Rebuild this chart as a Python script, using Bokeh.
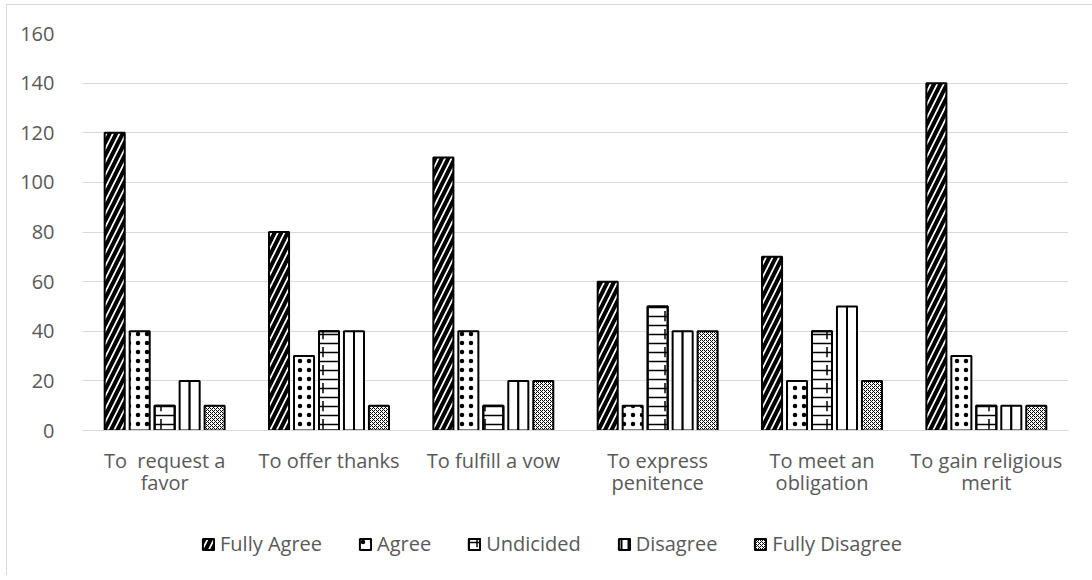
from bokeh.plotting import figure
from bokeh.layouts import column
from bokeh.models import (ColumnDataSource, FactorRange, FixedTicker, Legend,
                          LegendItem)
from bokeh.transform import dodge
from bokeh.embed import file_html
from bokeh.resources import INLINE

# Survey answers per motive
categories = ["To\u00a0 request a\nfavor", "To offer thanks", "To fulfill a vow",
              "To express\npenitence", "To meet an\nobligation",
              "To gain religious\nmerit"]
series_names = ["Fully Agree", "Agree", "Undicided", "Disagree", "Fully Disagree"]
fully_agree = [120, 80, 110, 60, 70, 140]
agree = [40, 30, 40, 10, 20, 30]
undecided = [10, 40, 10, 50, 40, 10]
disagree = [20, 40, 20, 40, 50, 10]
fully_disagree = [10, 10, 20, 40, 20, 10]
y_ticks = [0, 20, 40, 60, 80, 100, 120, 140, 160]

source = ColumnDataSource(dict(
    cat=categories, fa=fully_agree, ag=agree, un=undecided,
    di=disagree, fd=fully_disagree,
))

FONT = "Open Sans"
GREY_TEXT = "#595959"
GRID = "#d9d9d9"

base = dict(fill_color="white", line_color="black", line_width=2,
            hatch_color="black")
styles = {
    "fa": dict(hatch_pattern="right_diagonal_line", hatch_scale=13, hatch_weight=4),
    "ag": dict(hatch_pattern="dot", hatch_scale=9, hatch_weight=1),
    "un": dict(hatch_pattern="horizontal_line", hatch_scale=9, hatch_weight=1.5),
    "un_joints": dict(hatch_pattern="vertical_dash", hatch_scale=18,
                      hatch_weight=1.5, fill_alpha=0),
    "di": dict(),
    "di_key": dict(hatch_pattern="vertical_line", hatch_scale=7, hatch_weight=2),
    "fd": dict(hatch_pattern="diagonal_cross", hatch_scale=4, hatch_weight=1),
}

p = figure(
    x_range=FactorRange(factors=categories, range_padding=0),
    y_range=(0, 160),
    width=1086, height=510,
    output_backend="svg", toolbar_location=None,
    min_border_left=75, min_border_right=25,
    min_border_top=28, min_border_bottom=85,
    outline_line_color=None,
    background_fill_color="white", border_fill_color="white",
)

bw = 0.122
step = 0.152


def bars(offset, col, key, width=bw):
    kw = dict(base)
    kw.update(styles[key])
    return p.vbar(x=dodge("cat", offset, range=p.x_range), top=col,
                  width=width, source=source, **kw)


bars(-2 * step, "fa", "fa")
bars(-step, "ag", "ag")
# Undecided: horizontal courses plus staggered joints, like brickwork
bars(0, "un", "un")
bars(0, "un", "un_joints")
# Disagree: two halves side by side, giving the centre divider
bars(step - bw / 4, "di", "di", bw / 2)
bars(step + bw / 4, "di", "di", bw / 2)
bars(2 * step, "fd", "fd")

# Axes
p.xaxis.axis_line_color = GRID
p.xaxis.major_tick_line_color = None
p.xaxis.minor_tick_line_color = None
p.xaxis.major_label_text_font = FONT
p.xaxis.major_label_text_font_size = "20px"
p.xaxis.major_label_text_color = GREY_TEXT
p.xaxis.major_label_text_line_height = 0.85
p.xaxis.major_label_standoff = 10
p.xaxis.major_label_orientation = "horizontal"

p.yaxis.ticker = FixedTicker(ticks=y_ticks)
p.yaxis.axis_line_color = None
p.yaxis.major_tick_line_color = None
p.yaxis.minor_tick_line_color = None
p.yaxis.major_label_text_font = FONT
p.yaxis.major_label_text_font_size = "20px"
p.yaxis.major_label_text_color = GREY_TEXT
p.yaxis.major_label_standoff = 22

p.xgrid.grid_line_color = None
p.ygrid.grid_line_color = GRID
p.ygrid.grid_line_width = 1

# Legend strip under the chart; its key swatches are hidden glyphs
lg = figure(width=1086, height=60, output_backend="svg", toolbar_location=None,
            x_range=(0, 1), y_range=(0, 1), min_border=0,
            x_axis_location=None, y_axis_location=None,
            outline_line_color=None, border_fill_color="white")
lg.grid.visible = False
swatch = ColumnDataSource(dict(x=[0], top=[0]))


def key(k):
    kw = dict(base)
    kw.update(styles[k])
    r = lg.vbar(x="x", top="top", width=0.1, source=swatch, **kw)
    r.visible = False
    return r


items = [
    LegendItem(label=series_names[0], renderers=[key("fa")]),
    LegendItem(label=series_names[1], renderers=[key("ag")]),
    LegendItem(label=series_names[2], renderers=[key("un"), key("un_joints")]),
    LegendItem(label=series_names[3], renderers=[key("di_key")]),
    LegendItem(label=series_names[4], renderers=[key("fd")]),
]
legend = Legend(
    items=items, orientation="horizontal", location=(119, 18),
    padding=0, margin=0, spacing=36,
    glyph_width=14, glyph_height=14, label_standoff=5, label_height=20,
    label_text_font=FONT, label_text_font_size="20px",
    label_text_color=GREY_TEXT,
    border_line_color=None, background_fill_alpha=0,
)
lg.add_layout(legend, "center")

layout = column(p, lg, spacing=0, margin=(4, 0, 0, 6),
                styles={"border-top": "1px solid #d9d9d9",
                        "border-left": "1px solid #d9d9d9",
                        "background-color": "white"})

open("out.html", "w").write(file_html(layout, INLINE))
